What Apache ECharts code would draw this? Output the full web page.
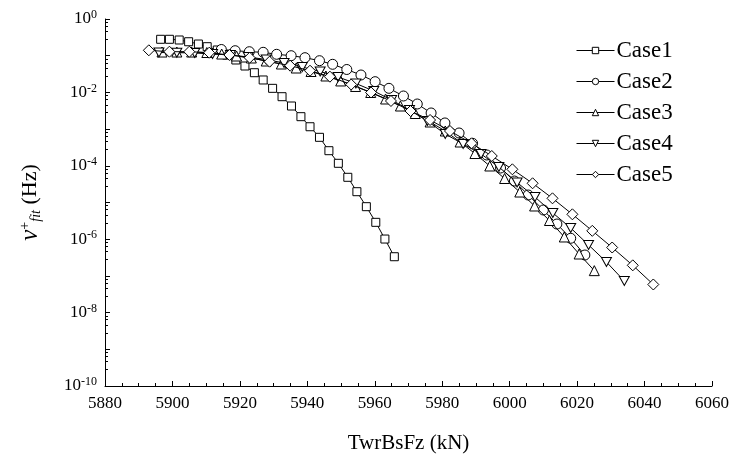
<!DOCTYPE html>
<html>
<head>
<meta charset="utf-8">
<script src="https://cdn.jsdelivr.net/npm/echarts@6/dist/echarts.min.js"></script>
<style>html,body{margin:0;padding:0;background:#fff}#c{width:738px;height:459px}</style>
</head>
<body>
<div id="c"></div>
<script>
var seriesNames = ['Case1', 'Case2', 'Case3', 'Case4', 'Case5'];

var case1X = [5896.5, 5899.1, 5902.0, 5904.8, 5907.7, 5910.3, 5913.3, 5916.1, 5918.8, 5921.5, 5924.3, 5926.9, 5929.7, 5932.5, 5935.3, 5938.1, 5940.8, 5943.6, 5946.4, 5949.2, 5952.0, 5954.7, 5957.5, 5960.3, 5963.0, 5965.8];
var case1Y = [0.280, 0.280, 0.268, 0.240, 0.208, 0.176, 0.143, 0.104, 0.0764, 0.0524, 0.0344, 0.0218, 0.0129, 0.00764, 0.00426, 0.00218, 0.00116, 5.97e-4, 2.58e-4, 1.17e-4, 4.86e-5, 1.97e-5, 7.69e-6, 2.88e-6, 1.01e-6, 3.33e-7];

var case2X = [5914.5, 5918.6, 5922.8, 5926.9, 5930.9, 5935.2, 5939.3, 5943.6, 5947.5, 5951.7, 5955.9, 5960.1, 5964.2, 5968.5, 5972.6, 5976.7, 5980.8, 5985.0, 5989.0, 5993.2, 5997.3, 6001.4, 6005.5, 6010.0, 6014.0, 6018.1, 6022.3];
var case2Y = [0.1476, 0.1368, 0.1285, 0.1238, 0.1092, 0.100, 0.0883, 0.0731, 0.0583, 0.0421, 0.0298, 0.0196, 0.0129, 0.00798, 0.00483, 0.00275, 0.00147, 7.83e-4, 4.10e-4, 1.97e-4, 8.71e-5, 3.85e-5, 1.60e-5, 6.25e-6, 2.59e-6, 1.06e-6, 3.71e-7];

var case3X = [5896.9, 5901.3, 5905.7, 5910.2, 5914.6, 5919.0, 5923.4, 5927.8, 5932.3, 5936.7, 5941.1, 5945.5, 5949.9, 5954.3, 5958.8, 5963.2, 5967.6, 5972.0, 5976.4, 5980.9, 5985.3, 5989.7, 5994.1, 5998.5, 6003.0, 6007.4, 6011.8, 6016.2, 6020.6, 6025.1];
var case3Y = [0.126, 0.126, 0.126, 0.122, 0.111, 0.0981, 0.0866, 0.0717, 0.0594, 0.0462, 0.0371, 0.0280, 0.0205, 0.0145, 0.00994, 0.00661, 0.00426, 0.00266, 0.00156, 8.88e-4, 4.45e-4, 2.16e-4, 9.88e-5, 4.51e-5, 1.93e-5, 8.03e-6, 3.23e-6, 1.15e-6, 3.95e-7, 1.39e-7];

var case4X = [5896.0, 5901.3, 5906.6, 5911.9, 5917.2, 5922.5, 5927.8, 5933.1, 5938.5, 5943.8, 5949.1, 5954.4, 5959.7, 5965.0, 5970.3, 5975.6, 5980.9, 5986.2, 5991.5, 5996.8, 6002.2, 6007.5, 6012.8, 6018.1, 6023.4, 6028.7, 6034.0];
var case4Y = [0.122, 0.121, 0.1185, 0.111, 0.1045, 0.0922, 0.0787, 0.0632, 0.0492, 0.0371, 0.0263, 0.0175, 0.0109, 0.00621, 0.00331, 0.00166, 7.35e-4, 3.92e-4, 2.10e-4, 9.27e-5, 3.51e-5, 1.41e-5, 5.18e-6, 2.02e-6, 6.95e-7, 2.39e-7, 7.26e-8];

var case5X = [5893.0, 5899.1, 5905.0, 5910.9, 5916.9, 5922.9, 5928.8, 5934.9, 5940.8, 5946.7, 5953.0, 5958.9, 5964.8, 5970.6, 5976.4, 5982.3, 5988.7, 5994.7, 6000.8, 6006.8, 6012.7, 6018.6, 6024.5, 6030.4, 6036.5, 6042.6];
var case5Y = [0.1403, 0.1285, 0.1285, 0.1208, 0.1045, 0.0882, 0.0687, 0.0534, 0.0390, 0.0268, 0.0164, 0.00993, 0.00583, 0.00311, 0.00177, 8.88e-4, 4.10e-4, 1.85e-4, 8.03e-5, 3.34e-5, 1.30e-5, 4.77e-6, 1.69e-6, 5.94e-7, 1.94e-7, 5.83e-8];

var xTicks = [5880, 5900, 5920, 5940, 5960, 5980, 6000, 6020, 6040, 6060];
var yExpLabels = [0, -2, -4, -6, -8, -10];

var allX = [case1X, case2X, case3X, case4X, case5X];
var allY = [case1Y, case2Y, case3Y, case4Y, case5Y];
var symbols = ['rect', 'circle', 'triangle', 'path://M0,0 L10,0 L5,9 Z', 'diamond'];
var sizes = [8, 10, 10, [10, 9], 11];

function zip(xs, ys) { return xs.map(function (x, i) { return [x, ys[i]]; }); }

var FONT = 'Liberation Serif';
var chart = echarts.init(document.getElementById('c'), null, { renderer: 'canvas' });

var series = seriesNames.map(function (n, i) {
  return {
    name: n,
    type: 'line',
    data: zip(allX[i], allY[i]),
    symbol: symbols[i],
    symbolSize: sizes[i],
    showAllSymbol: true,
    lineStyle: { color: '#000', width: 1 },
    itemStyle: { color: '#fff', borderColor: '#000', borderWidth: 1 },
    emphasis: { disabled: true },
    z: 2 + i
  };
});

chart.setOption({
  animation: false,
  backgroundColor: '#fff',
  grid: { left: 105, right: 26, top: 19, bottom: 73, containLabel: false },
  legend: {
    orient: 'vertical',
    left: 571,
    top: 34,
    itemWidth: 38,
    itemHeight: 8,
    itemGap: 8,
    data: seriesNames,
    lineStyle: { width: 1, color: '#000' },
    itemStyle: { color: '#fff', borderColor: '#000', borderWidth: 1 },
    textStyle: { fontFamily: FONT, fontSize: 23, color: '#000', padding: [0, 0, 0, -3] },
    inactiveColor: '#000'
  },
  xAxis: {
    type: 'value',
    min: 5880,
    max: 6060,
    interval: 20,
    name: 'TwrBsFz (kN)',
    nameLocation: 'middle',
    nameGap: 47,
    nameTextStyle: { fontFamily: FONT, fontSize: 21, color: '#000' },
    axisLine: { show: true, onZero: false, lineStyle: { color: '#000', width: 1 } },
    axisTick: { show: true, inside: true, length: 5, lineStyle: { color: '#000' } },
    minorTick: { show: true, splitNumber: 4, length: 3, lineStyle: { color: '#000' } },
    splitLine: { show: false },
    axisLabel: {
      fontFamily: FONT, fontSize: 17, color: '#000', margin: 9,
      formatter: function (v) { return xTicks.indexOf(v) >= 0 ? String(v) : ''; }
    }
  },
  yAxis: {
    type: 'log',
    logBase: 10,
    min: 1e-10,
    max: 1,
    interval: 1,
    name: '{v|v}{sup|+}{sub|fit}{u| (Hz)}',
    nameLocation: 'middle',
    nameGap: 62,
    nameRotate: 90,
    nameTextStyle: {
      fontFamily: FONT, color: '#000',
      rich: {
        v: { fontFamily: FONT, fontStyle: 'italic', fontSize: 25, color: '#000' },
        sup: { fontFamily: FONT, fontSize: 14, color: '#000', verticalAlign: 'top', padding: [0, 0, 8, 0] },
        sub: { fontFamily: FONT, fontStyle: 'italic', fontSize: 14, color: '#000', verticalAlign: 'bottom', padding: [10, 0, 0, 0] },
        u: { fontFamily: FONT, fontSize: 22, color: '#000' }
      }
    },
    axisLine: { show: true, lineStyle: { color: '#000', width: 1 } },
    axisTick: { show: true, inside: true, length: 5, lineStyle: { color: '#000' } },
    minorTick: { show: true, splitNumber: 5, length: 3, lineStyle: { color: '#000' } },
    splitLine: { show: false },
    axisLabel: {
      margin: 8,
      formatter: function (v) {
        var e = Math.round(Math.log(v) / Math.LN10);
        if (yExpLabels.indexOf(e) < 0) return '';
        return '{b|10}{s|' + e + '}';
      },
      rich: {
        b: { fontFamily: FONT, fontSize: 17, color: '#000' },
        s: { fontFamily: FONT, fontSize: 12, color: '#000', verticalAlign: 'top', padding: [0, 0, 8, 0] }
      }
    }
  },
  series: series
});
</script>
</body>
</html>
